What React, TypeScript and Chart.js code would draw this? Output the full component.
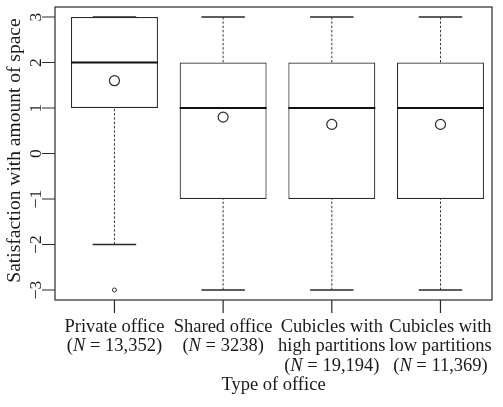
import React, { useEffect, useRef } from 'react';
import { Chart, registerables } from 'chart.js';

Chart.register(...registerables);

// ---- data ----
const categories = ['Private office', 'Shared office', 'Cubicles with high partitions', 'Cubicles with low partitions'];
const categoryLines = [['Private office'], ['Shared office'], ['Cubicles with', 'high partitions'], ['Cubicles with', 'low partitions']];
const sampleSizes = ['13,352', '3238', '19,194', '11,369'];
const positions = [1, 2, 3, 4];
const lowerWhisker = [-2, -3, -3, -3];
const firstQuartile = [1, -1, -1, -1];
const medians = [2, 1, 1, 1];
const thirdQuartile = [3, 2, 2, 2];
const upperWhisker = [3, 3, 3, 3];
const means = [1.6, 0.8, 0.64, 0.64];
const outlierGroups = [1];
const outlierValues = [-3];
const yTicks = [-3, -2, -1, 0, 1, 2, 3];
const yTickLabels = ['\u22123', '\u22122', '\u22121', '0', '1', '2', '3'];
const xTitle = 'Type of office';
const yTitle = 'Satisfaction with amount of space';

const FONT = '"Liberation Serif", "Times New Roman", serif';
const INK = '#1a1a1a';
const LINE = '#2a2a2a';
const BOX_HALF = 0.4;
const CAP_HALF = 0.2;

const axesPlugin = {
  id: 'rAxes',
  afterDraw(chart: any) {
    const ctx: CanvasRenderingContext2D = chart.ctx;
    const { left, right, top, bottom } = chart.chartArea;
    const xs = chart.scales.x;
    const ys = chart.scales.y;
    ctx.save();
    // frame
    ctx.strokeStyle = LINE;
    ctx.lineWidth = 1.2;
    ctx.setLineDash([]);
    ctx.strokeRect(left, top, right - left, bottom - top);
    // y ticks
    ctx.beginPath();
    yTicks.forEach((v) => {
      const py = ys.getPixelForValue(v);
      ctx.moveTo(left - 13, py);
      ctx.lineTo(left, py);
    });
    // x ticks
    positions.forEach((p) => {
      const px = xs.getPixelForValue(p);
      ctx.moveTo(px, bottom);
      ctx.lineTo(px, bottom + 13);
    });
    ctx.stroke();

    ctx.fillStyle = INK;
    // y tick labels (rotated, parallel to axis)
    ctx.font = `17.5px ${FONT}`;
    ctx.textAlign = 'center';
    ctx.textBaseline = 'alphabetic';
    yTicks.forEach((v, i) => {
      const py = ys.getPixelForValue(v);
      ctx.save();
      ctx.translate(left - 14, py);
      ctx.rotate(-Math.PI / 2);
      ctx.fillText(yTickLabels[i], 0, 0);
      ctx.restore();
    });
    // y title
    ctx.font = `19.5px ${FONT}`;
    ctx.save();
    ctx.translate(20, (top + bottom) / 2 - 3);
    ctx.rotate(-Math.PI / 2);
    ctx.fillText(yTitle, 0, 0);
    ctx.restore();

    // x labels
    const lineGap = 19.3;
    const firstBase = bottom + 32;
    const normal = `18.5px ${FONT}`;
    const italic = `italic 18.5px ${FONT}`;
    const drawPieces = (pieces: { t: string; it?: boolean }[], cx: number, y: number) => {
      let total = 0;
      pieces.forEach((pc) => {
        ctx.font = pc.it ? italic : normal;
        total += ctx.measureText(pc.t).width;
      });
      let x = cx - total / 2;
      ctx.textAlign = 'left';
      pieces.forEach((pc) => {
        ctx.font = pc.it ? italic : normal;
        ctx.fillText(pc.t, x, y);
        x += ctx.measureText(pc.t).width;
      });
    };
    categories.forEach((_, i) => {
      const cx = xs.getPixelForValue(positions[i]);
      const lines = categoryLines[i];
      lines.forEach((ln, k) => {
        drawPieces([{ t: ln }], cx, firstBase + k * lineGap);
      });
      drawPieces(
        [{ t: '(' }, { t: 'N', it: true }, { t: ' = ' + sampleSizes[i] + ')' }],
        cx,
        firstBase + lines.length * lineGap
      );
    });
    // x title
    ctx.font = normal;
    ctx.textAlign = 'center';
    ctx.fillText(xTitle, (left + right) / 2, bottom + 90);
    ctx.restore();
  },
};

export default function App() {
  const ref = useRef<HTMLCanvasElement | null>(null);
  useEffect(() => {
    if (!ref.current) return;
    const gap = (p: number) => ({ x: p, y: null as any });
    const whiskerData: any[] = [];
    const capData: any[] = [];
    const medianData: any[] = [];
    positions.forEach((p, i) => {
      whiskerData.push({ x: p, y: lowerWhisker[i] }, { x: p, y: firstQuartile[i] }, gap(p));
      whiskerData.push({ x: p, y: thirdQuartile[i] }, { x: p, y: upperWhisker[i] }, gap(p));
      capData.push({ x: p - CAP_HALF, y: lowerWhisker[i] }, { x: p + CAP_HALF, y: lowerWhisker[i] }, gap(p));
      capData.push({ x: p - CAP_HALF, y: upperWhisker[i] }, { x: p + CAP_HALF, y: upperWhisker[i] }, gap(p));
      medianData.push({ x: p - BOX_HALF, y: medians[i] }, { x: p + BOX_HALF, y: medians[i] }, gap(p));
    });
    const chart = new Chart(ref.current, {
      type: 'bar',
      data: {
        datasets: [
          {
            type: 'bar',
            label: 'box',
            data: positions.map((p, i) => ({ x: p, y: [firstQuartile[i], thirdQuartile[i]] })) as any,
            backgroundColor: '#ffffff',
            borderColor: LINE,
            borderWidth: 1.2,
            borderSkipped: false,
            barPercentage: 2 * BOX_HALF,
            categoryPercentage: 1,
            order: 5,
          } as any,
          {
            type: 'line',
            label: 'whiskers',
            data: whiskerData,
            borderColor: '#3a3a3a',
            borderWidth: 1,
            borderDash: [2.5, 1.8],
            pointRadius: 0,
            spanGaps: false,
            order: 4,
          } as any,
          {
            type: 'line',
            label: 'caps',
            data: capData,
            borderColor: LINE,
            borderWidth: 1.3,
            pointRadius: 0,
            spanGaps: false,
            order: 3,
          } as any,
          {
            type: 'line',
            label: 'medians',
            data: medianData,
            borderColor: '#111',
            borderWidth: 2.2,
            pointRadius: 0,
            spanGaps: false,
            order: 2,
          } as any,
          {
            type: 'line',
            label: 'means',
            data: positions.map((p, i) => ({ x: p, y: means[i] })),
            showLine: false,
            pointRadius: 5,
            pointStyle: 'circle',
            pointBackgroundColor: '#ffffff',
            pointBorderColor: LINE,
            pointBorderWidth: 1.2,
            order: 1,
          } as any,
          {
            type: 'line',
            label: 'outliers',
            data: outlierGroups.map((g, i) => ({ x: g, y: outlierValues[i] })),
            showLine: false,
            pointRadius: 2,
            pointStyle: 'circle',
            pointBackgroundColor: '#ffffff',
            pointBorderColor: LINE,
            pointBorderWidth: 1,
            order: 0,
          } as any,
        ],
      },
      options: {
        animation: false,
        responsive: false,
        devicePixelRatio: 1,
        layout: { padding: { left: 55, top: 7, right: 11, bottom: 107 } },
        plugins: { legend: { display: false }, tooltip: { enabled: false } },
        scales: {
          x: {
            type: 'linear',
            display: false,
            offset: false,
            grid: { offset: false },
            min: 0.453,
            max: 4.474,
            afterBuildTicks: (scale: any) => {
              scale.ticks = positions.map((v) => ({ value: v }));
            },
          },
          y: {
            type: 'linear',
            display: false,
            min: -3.22,
            max: 3.22,
            afterBuildTicks: (scale: any) => {
              scale.ticks = yTicks.map((v) => ({ value: v }));
            },
          },
        },
      } as any,
      plugins: [axesPlugin],
    });
    return () => chart.destroy();
  }, []);
  return (
    <div style={{ position: 'fixed', left: 0, top: 0, width: 503, height: 407, background: '#fff' }}>
      <canvas ref={ref} width={503} height={407} style={{ display: 'block', width: 503, height: 407 }} />
    </div>
  );
}
